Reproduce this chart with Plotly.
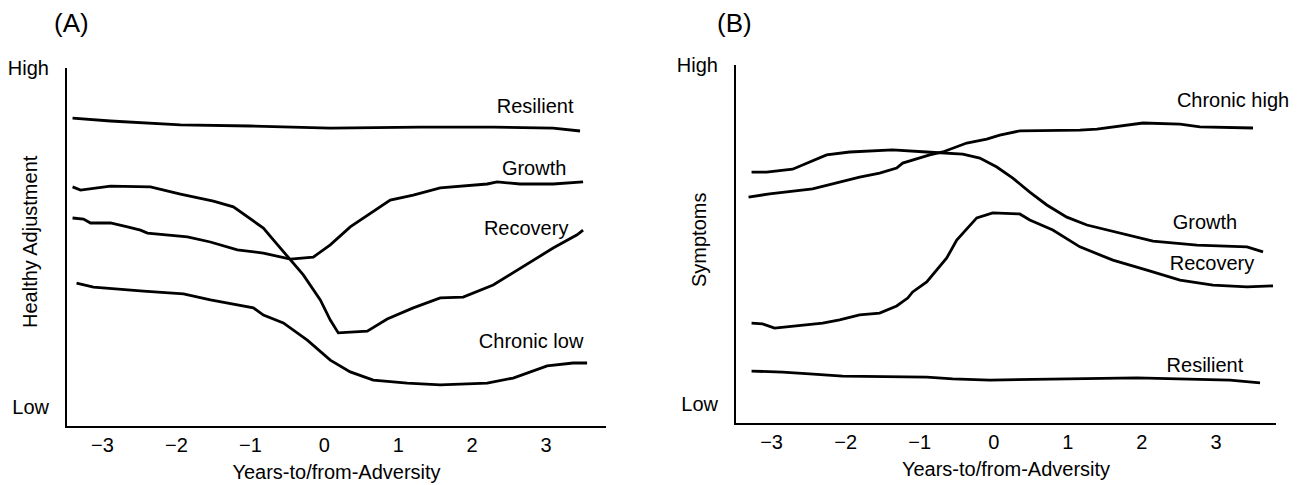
import plotly.graph_objects as go

# ---------------- Panel A : Healthy Adjustment ----------------
a_res_x = [-3.405, -2.892, -1.946, -1.0, 0.081, 1.297, 2.284, 3.095, 3.459]
a_res_y = [86.0, 85.2, 84.1, 83.8, 83.2, 83.5, 83.5, 83.2, 82.4]

a_rec_x = [-3.405, -3.297, -2.892, -2.351, -1.946, -1.5, -1.230, -1.041, -0.824, -0.689, -0.459,
           -0.284, -0.054, 0.081, 0.189, 0.581, 0.851, 1.203, 1.568, 1.878, 2.284, 2.649,
           3.095, 3.419, 3.5]
a_rec_y = [66.8, 65.9, 67.0, 66.8, 64.8, 62.8, 61.2, 58.4, 55.3, 52.0, 46.4,
           42.2, 35.2, 29.6, 26.0, 26.5, 29.9, 33.0, 35.8, 36.0, 39.4, 44.1,
           49.7, 53.4, 54.7]

a_gro_x = [-3.405, -3.257, -3.162, -2.892, -2.662, -2.486, -2.392, -1.851, -1.541, -1.176, -0.824,
           -0.459, -0.149, 0.081, 0.351, 0.662, 0.892, 1.203, 1.568, 2.203, 2.338, 2.649,
           3.095, 3.5]
a_gro_y = [58.1, 57.8, 56.7, 56.7, 55.6, 54.7, 53.9, 52.8, 51.4, 49.2, 48.3,
           46.6, 47.2, 50.6, 55.6, 59.8, 63.1, 64.5, 66.5, 67.6, 68.2, 67.6,
           67.6, 68.2]

a_low_x = [-3.351, -3.122, -2.446, -1.905, -1.541, -0.959, -0.824, -0.554, -0.230, 0.081, 0.351,
           0.662, 1.122, 1.568, 2.203, 2.554, 3.014, 3.365, 3.554]
a_low_y = [39.9, 38.8, 37.7, 36.9, 35.2, 33.0, 31.0, 28.8, 24.0, 18.4, 15.1,
           12.8, 12.0, 11.5, 12.0, 13.4, 16.8, 17.6, 17.6]

a_names = ["Resilient", "Growth", "Recovery", "Chronic low"]
a_label_x = [2.851, 2.838, 2.730, 2.797]
a_label_y = [88.8, 71.5, 54.7, 23.2]

# ---------------- Panel B : Symptoms ----------------
b_chr_x = [-3.311, -3.027, -2.446, -2.122, -1.811, -1.541, -1.311, -1.230, -0.865, -0.689, -0.365,
           -0.095, 0.081, 0.351, 1.162, 1.392, 1.703, 2.014, 2.514, 2.784, 3.5]
b_chr_y = [63.1, 64.0, 65.4, 67.0, 68.7, 69.8, 71.2, 72.6, 74.9, 75.7, 78.2,
           79.3, 80.4, 81.6, 81.8, 82.1, 83.0, 83.8, 83.5, 82.7, 82.4]

b_gro_x = [-3.270, -3.068, -2.716, -2.527, -2.257, -1.946, -1.365, -0.905, -0.419, -0.189, 0.041,
           0.257, 0.486, 0.716, 0.986, 1.257, 1.703, 2.149, 2.743, 3.419, 3.635]
b_gro_y = [70.1, 70.1, 70.9, 72.6, 74.9, 75.7, 76.3, 75.7, 75.1, 74.0, 71.5,
           68.4, 64.5, 60.9, 57.5, 55.3, 53.1, 50.8, 49.7, 49.2, 47.8]

b_rec_x = [-3.270, -3.122, -2.959, -2.716, -2.311, -2.081, -1.811, -1.541, -1.311, -1.162, -1.095,
           -0.905, -0.635, -0.500, -0.230, -0.014, 0.351, 0.486, 0.797, 1.162, 1.608, 2.068,
           2.514, 2.959, 3.419, 3.770]
b_rec_y = [27.9, 27.7, 26.5, 27.1, 27.9, 28.8, 30.2, 30.7, 32.7, 34.9, 36.6,
           39.4, 46.1, 51.1, 57.3, 58.7, 58.4, 56.7, 53.9, 49.2, 45.5, 42.7,
           39.9, 38.5, 38.0, 38.3]

b_res_x = [-3.270, -2.851, -2.486, -2.041, -0.905, -0.554, -0.054, 0.932, 1.932, 3.189, 3.595]
b_res_y = [14.5, 14.2, 13.7, 13.1, 12.8, 12.3, 12.0, 12.3, 12.6, 12.0, 11.2]

b_names = ["Chronic high", "Growth", "Recovery", "Resilient"]
b_label_x = [3.230, 2.851, 2.946, 2.851]
b_label_y = [89.7, 55.6, 44.1, 15.6]

x_tickvals = [-3, -2, -1, 0, 1, 2, 3]
x_ticktext = ["\u22123", "\u22122", "\u22121", "0", "1", "2", "3"]
y_tickvals = [5.4, 100]
y_ticktext = ["Low", "High"]

FONT = "Arial, Liberation Sans, sans-serif"
W, H = 1302, 485
OFF = 8  # default page body margin of the html page
FS = 20
line = dict(color="black", width=2.8)


def px_x(p):
    return (p - OFF) / W


def px_y(p):
    return 1 - (p - OFF) / H


fig = go.Figure()
for xs, ys, nm in [(a_res_x, a_res_y, "Resilient"), (a_gro_x, a_gro_y, "Growth"),
                   (a_rec_x, a_rec_y, "Recovery"), (a_low_x, a_low_y, "Chronic low")]:
    fig.add_trace(go.Scatter(x=xs, y=ys, mode="lines", name=nm, line=line,
                             xaxis="x", yaxis="y", showlegend=False))
for xs, ys, nm in [(b_chr_x, b_chr_y, "Chronic high"), (b_gro_x, b_gro_y, "Growth"),
                   (b_rec_x, b_rec_y, "Recovery"), (b_res_x, b_res_y, "Resilient")]:
    fig.add_trace(go.Scatter(x=xs, y=ys, mode="lines", name=nm, line=line,
                             xaxis="x2", yaxis="y2", showlegend=False))

# curve labels
for nm, lx, ly in zip(a_names, a_label_x, a_label_y):
    fig.add_trace(go.Scatter(x=[lx], y=[ly], mode="text", text=[nm], xaxis="x", yaxis="y",
                             textfont=dict(size=FS, color="black", family=FONT),
                             cliponaxis=False, showlegend=False, hoverinfo="skip"))
for nm, lx, ly in zip(b_names, b_label_x, b_label_y):
    fig.add_trace(go.Scatter(x=[lx], y=[ly], mode="text", text=[nm], xaxis="x2", yaxis="y2",
                             textfont=dict(size=FS, color="black", family=FONT),
                             cliponaxis=False, showlegend=False, hoverinfo="skip"))

xcommon = dict(range=[-3.48, 3.81], showgrid=False, zeroline=False, showline=True,
               linecolor="black", linewidth=2, ticks="", tickvals=x_tickvals,
               ticktext=x_ticktext, tickfont=dict(size=FS, color="black", family=FONT),
               ticklabelstandoff=0, automargin=False,
               title=dict(text="Years-to/from-Adversity", standoff=10,
                          font=dict(size=FS, color="black", family=FONT)))
ycommon = dict(range=[0, 100], showgrid=False, zeroline=False, showline=True,
               linecolor="black", linewidth=2, ticks="", tickvals=y_tickvals,
               ticktext=y_ticktext, tickfont=dict(size=FS, color="black", family=FONT),
               ticklabelstandoff=12, automargin=False)

fig.update_layout(
    width=W, height=H,
    margin=dict(l=0, r=0, t=0, b=0, pad=0, autoexpand=False),
    paper_bgcolor="white", plot_bgcolor="white",
    font=dict(family=FONT, color="black"),
    xaxis=dict(xcommon, domain=[px_x(67), px_x(606)], anchor="y"),
    yaxis=dict(ycommon, domain=[px_y(426), px_y(68)], anchor="x"),
    xaxis2=dict(xcommon, domain=[px_x(736), px_x(1276)], anchor="y2"),
    yaxis2=dict(ycommon, domain=[px_y(423), px_y(65)], anchor="x2"),
    annotations=[
        dict(text="(A)", x=px_x(71), y=px_y(23), xref="paper", yref="paper",
             xanchor="center", yanchor="middle",
             showarrow=False, font=dict(size=26, color="black", family=FONT)),
        dict(text="(B)", x=px_x(734), y=px_y(23), xref="paper", yref="paper",
             xanchor="center", yanchor="middle",
             showarrow=False, font=dict(size=26, color="black", family=FONT)),
        dict(text="Healthy Adjustment", x=px_x(29.5), y=px_y(241.5), xref="paper", yref="paper",
             xanchor="center", yanchor="middle",
             textangle=-90, showarrow=False, font=dict(size=FS, color="black", family=FONT)),
        dict(text="Symptoms", x=px_x(699), y=px_y(240), xref="paper", yref="paper",
             xanchor="center", yanchor="middle",
             textangle=-90, showarrow=False, font=dict(size=FS, color="black", family=FONT)),
    ],
)

fig.write_html("out.html")
